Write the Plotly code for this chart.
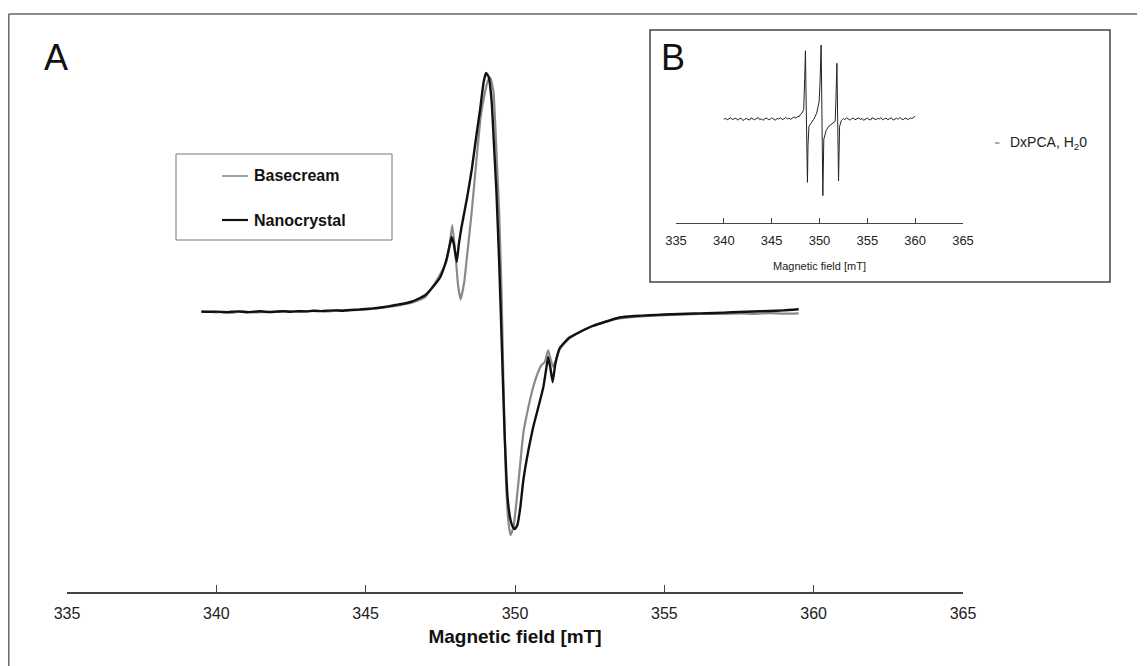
import plotly.graph_objects as go

# ---------------- data ----------------
base_x = [339.5, 339.75, 340.0, 340.25, 340.5, 340.75, 341.0, 341.25, 341.5, 341.75, 342.0, 342.25,
          342.5, 342.75, 343.0, 343.25, 343.5, 343.75, 344.0, 344.25, 344.5, 344.75, 345.0, 345.25,
          345.5, 345.75, 346.0, 346.25, 346.5, 346.75, 347.0, 347.3, 347.5, 347.7, 347.8, 347.9,
          348.0, 348.1, 348.18, 348.3, 348.38, 348.55, 348.71, 348.85, 348.99, 349.1, 349.18, 349.28,
          349.38, 349.47, 349.55, 349.62, 349.7, 349.78, 349.85, 349.95, 350.1, 350.28, 350.45, 350.61,
          350.75, 350.89, 351.0, 351.11, 351.2, 351.28, 351.5, 351.8, 352.17, 352.6, 353.0, 353.5,
          354.0, 354.5, 355.0, 355.5, 356.0, 356.5, 357.0, 357.5, 358.0, 358.5, 359.0, 359.5]
base_y = [0.0, 0.6, -0.4, 0.5, -0.6, 0.2, 0.4, -0.5, -0.2, 0.3, 0.2, 0.9,
          0.6, 0.2, 0.5, 1.1, 1.0, 0.6, 1.3, 1.6, 1.8, 2.0, 2.5, 3.3,
          4.0, 5.0, 6.0, 7.5, 9.0, 11.5, 15.0, 28.0, 38.0, 50.0, 65.0, 87.0,
          60.0, 25.0, 12.7, 30.0, 52.0, 100.0, 152.0, 195.0, 219.0, 232.0, 234.0, 220.0,
          160.0, 100.0, 20.0, -80.0, -170.0, -210.0, -223.0, -215.0, -175.0, -121.0, -95.0, -75.0,
          -62.0, -53.0, -50.0, -38.0, -48.0, -55.0, -37.0, -27.0, -20.0, -14.0, -10.0, -6.5,
          -5.0, -4.0, -3.2, -2.6, -2.2, -1.8, -2.0, -1.4, -1.8, -1.2, -1.6, -1.3]

nano_x = [339.5, 339.75, 340.0, 340.25, 340.5, 340.75, 341.0, 341.25, 341.5, 341.75, 342.0, 342.25,
          342.5, 342.75, 343.0, 343.25, 343.5, 343.75, 344.0, 344.25, 344.5, 344.75, 345.0, 345.25,
          345.5, 345.75, 346.0, 346.25, 346.5, 346.75, 347.0, 347.25, 347.5, 347.7, 347.8, 347.88,
          347.95, 348.05, 348.12, 348.21, 348.4, 348.55, 348.7, 348.83, 348.95, 349.03, 349.12, 349.22,
          349.3, 349.38, 349.47, 349.55, 349.65, 349.75, 349.85, 349.93, 350.0, 350.08, 350.18, 350.28,
          350.45, 350.61, 350.8, 350.95, 351.05, 351.11, 351.18, 351.26, 351.35, 351.5, 351.8, 352.17,
          352.6, 353.0, 353.5, 354.0, 354.5, 355.0, 355.5, 356.0, 356.4, 357.0, 357.5, 358.0,
          358.5, 359.0, 359.5]
nano_y = [0.5, 0.1, 0.4, -0.3, 0.2, 0.6, -0.2, 0.3, 0.7, -0.1, 0.4, 0.8,
          0.3, 0.9, 0.6, 1.2, 0.9, 1.4, 1.6, 1.3, 2.0, 2.4, 3.0, 3.6,
          4.5, 5.6, 7.0, 8.3, 10.0, 13.0, 17.0, 25.0, 35.0, 52.0, 65.0, 75.0,
          68.0, 50.0, 68.0, 85.0, 115.0, 142.0, 175.0, 202.0, 230.0, 239.0, 235.0, 210.0,
          165.0, 119.0, 50.0, -25.0, -120.0, -185.0, -208.0, -215.0, -217.0, -213.0, -195.0, -168.0,
          -138.0, -115.0, -93.0, -75.0, -56.0, -45.0, -55.0, -70.0, -52.0, -36.0, -26.0, -20.0,
          -14.0, -10.0, -5.5, -4.0, -3.2, -2.5, -2.0, -1.5, -1.3, -0.6, 0.0, 0.5,
          1.0, 1.6, 2.7]

inset_x = [340.0, 340.2, 340.35, 340.55, 340.7, 340.9, 341.1, 341.25, 341.45, 341.6, 341.8, 342.0,
           342.15, 342.35, 342.5, 342.7, 342.85, 343.05, 343.2, 343.4, 343.6, 343.75, 343.95, 344.1,
           344.3, 344.5, 344.65, 344.85, 345.0, 345.2, 345.4, 345.55, 345.75, 345.9, 346.1, 346.3,
           346.45, 346.65, 346.8, 347.0, 347.2, 347.35, 347.55, 347.7, 347.9, 348.0, 348.2, 348.35,
           348.45, 348.53, 348.6, 348.68, 348.74, 348.8, 348.9, 349.1, 349.4, 349.7, 349.96, 350.05,
           350.17, 350.25, 350.35, 350.45, 350.7, 351.0, 351.3, 351.64, 351.72, 351.82, 351.9, 351.99,
           352.1, 352.3, 352.5, 352.65, 352.85, 353.0, 353.2, 353.35, 353.55, 353.7, 353.9, 354.1,
           354.25, 354.45, 354.6, 354.8, 355.0, 355.15, 355.35, 355.5, 355.7, 355.9, 356.05, 356.25,
           356.4, 356.6, 356.8, 356.95, 357.15, 357.3, 357.5, 357.7, 357.85, 358.05, 358.2, 358.4,
           358.6, 358.75, 358.95, 359.1, 359.3, 359.5, 359.65, 359.85, 360.0]
inset_y = [0.0, 1.0, -0.6, 0.8, 1.6, -0.4, 0.2, 1.3, -0.9, 0.5, 1.1, -1.2,
           -0.2, 0.9, 0.1, -0.8, 1.4, 0.3, -0.5, 0.6, 1.8, -0.3, 0.4, -1.1,
           0.7, 1.2, -0.4, 0.2, 1.5, 0.1, -0.9, 0.8, 0.3, 1.6, -0.2, 0.5,
           1.9, 0.4, 1.1, 0.0, 1.7, 2.4, 1.0, 2.8, 3.0, 5.0, 6.5, 10.0,
           40.0, 68.6, 20.0, -40.0, -63.0, -25.0, -7.0, -4.0, 0.0, 6.0, 17.6, 35.0,
           74.3, 10.0, -76.4, -20.0, -11.0, -6.7, -4.7, -2.0, 20.0, 56.0, 0.0, -61.7,
           -7.0, -1.0, 0.8, -0.3, 1.4, 0.2, -0.9, 0.6, 1.2, -0.5, 0.3, 1.5,
           -0.2, 0.9, -1.0, 0.4, 1.3, 0.0, -0.7, 1.6, 0.5, -0.4, 1.0, 0.2,
           1.7, -0.6, 0.6, 1.2, -0.3, 0.8, 1.5, -0.8, 0.4, 1.1, 0.0, 1.8,
           0.3, -0.5, 1.2, 0.6, -0.2, 1.4, 0.7, 2.0, 3.0]

tick_vals = [335, 340, 345, 350, 355, 360, 365]
tick_text = ["335", "340", "345", "350", "355", "360", "365"]

FONT = "Liberation Sans, Arial, sans-serif"

# reference-pixel -> paper helpers (plot area spans x 67..963, y 14..592 in the reference)
def px(x):
    return (x - 67) / 896.0

def py(y):
    return (592 - y) / 578.0

fig = go.Figure()
fig.add_trace(go.Scatter(x=base_x, y=base_y, mode="lines", name="Basecream",
                         line=dict(color="#8a8a8a", width=2.2, shape="spline", smoothing=0.4),
                         showlegend=False))
fig.add_trace(go.Scatter(x=nano_x, y=nano_y, mode="lines", name="Nanocrystal",
                         line=dict(color="#111111", width=2.4, shape="spline", smoothing=0.4),
                         showlegend=False))
fig.add_trace(go.Scatter(x=inset_x, y=inset_y, mode="lines", name="DxPCA, H2O",
                         line=dict(color="#222222", width=1), showlegend=False,
                         xaxis="x2", yaxis="y2"))

shapes = [
    # outer frame (top and left edges visible)
    dict(type="line", xref="paper", yref="paper", x0=px(8.8), x1=px(1160), y0=py(14), y1=py(14),
         line=dict(color="#666666", width=1.5)),
    dict(type="line", xref="paper", yref="paper", x0=px(8.8), x1=px(8.8), y0=py(14), y1=py(690),
         line=dict(color="#666666", width=1.5)),
    # inset frame
    dict(type="rect", xref="paper", yref="paper", x0=px(650), x1=px(1110), y0=py(282), y1=py(30),
         line=dict(color="#444444", width=1.5)),
    # legend box
    dict(type="rect", xref="paper", yref="paper", x0=px(176), x1=px(392), y0=py(240), y1=py(154),
         line=dict(color="#777777", width=1)),
    dict(type="line", xref="paper", yref="paper", x0=px(222), x1=px(248), y0=py(176), y1=py(176),
         line=dict(color="#8a8a8a", width=1.6)),
    dict(type="line", xref="paper", yref="paper", x0=px(222), x1=px(248), y0=py(220), y1=py(220),
         line=dict(color="#111111", width=2.2)),
    # inset legend marker
    dict(type="line", xref="paper", yref="paper", x0=px(995), x1=px(999.5), y0=py(143), y1=py(143),
         line=dict(color="#555555", width=1)),
]

annotations = [
    dict(text="A", x=px(56), y=py(58), xref="paper", yref="paper", showarrow=False,
         font=dict(family=FONT, size=36, color="#111111"), xanchor="center", yanchor="middle"),
    dict(text="B", x=px(673), y=py(58), xref="paper", yref="paper", showarrow=False,
         font=dict(family=FONT, size=36, color="#111111"), xanchor="center", yanchor="middle"),
    dict(text="<b>Basecream</b>", x=px(252), y=py(176), xref="paper", yref="paper", showarrow=False,
         font=dict(family=FONT, size=16, color="#111111"), xanchor="left", yanchor="middle"),
    dict(text="<b>Nanocrystal</b>", x=px(252), y=py(220), xref="paper", yref="paper", showarrow=False,
         font=dict(family=FONT, size=16, color="#111111"), xanchor="left", yanchor="middle"),
    dict(text="DxPCA, H<sub>2</sub>0", x=px(1008), y=py(143), xref="paper", yref="paper", showarrow=False,
         font=dict(family=FONT, size=14, color="#222222"), xanchor="left", yanchor="middle"),
]

# the page body adds an 8px offset, so the plot area is set at 59..955 / 6..584 in figure pixels
fig.update_layout(
    width=1145, height=666,
    margin=dict(l=59, r=190, t=6, b=82),
    paper_bgcolor="white", plot_bgcolor="white",
    showlegend=False,
    xaxis=dict(range=[335, 365], tickvals=tick_vals, ticktext=tick_text,
               ticks="inside", ticklen=7, tickwidth=1.3, tickcolor="#444444",
               showline=True, linecolor="#444444", linewidth=1.5,
               showgrid=False, zeroline=False, ticklabelstandoff=6,
               tickfont=dict(family=FONT, size=16, color="#222222"),
               title=dict(text="<b>Magnetic field [mT]</b>", standoff=9,
                          font=dict(family=FONT, size=19, color="#111111"))),
    yaxis=dict(range=[-280, 298], visible=False, showgrid=False, zeroline=False),
    xaxis2=dict(domain=[px(676), px(963)], anchor="y2", range=[335, 365],
                tickvals=tick_vals, ticktext=tick_text,
                ticks="inside", ticklen=5, tickwidth=1, tickcolor="#444444",
                showline=True, linecolor="#444444", linewidth=1,
                showgrid=False, zeroline=False, ticklabelstandoff=5,
                tickfont=dict(family=FONT, size=13, color="#222222"),
                title=dict(text="Magnetic field [mT]", standoff=15,
                           font=dict(family=FONT, size=11, color="#222222"))),
    yaxis2=dict(domain=[py(223), py(40)], anchor="x2", range=[-103.7, 79.3], visible=False,
                showgrid=False, zeroline=False),
    shapes=shapes,
    annotations=annotations,
)

fig.write_html("out.html")
